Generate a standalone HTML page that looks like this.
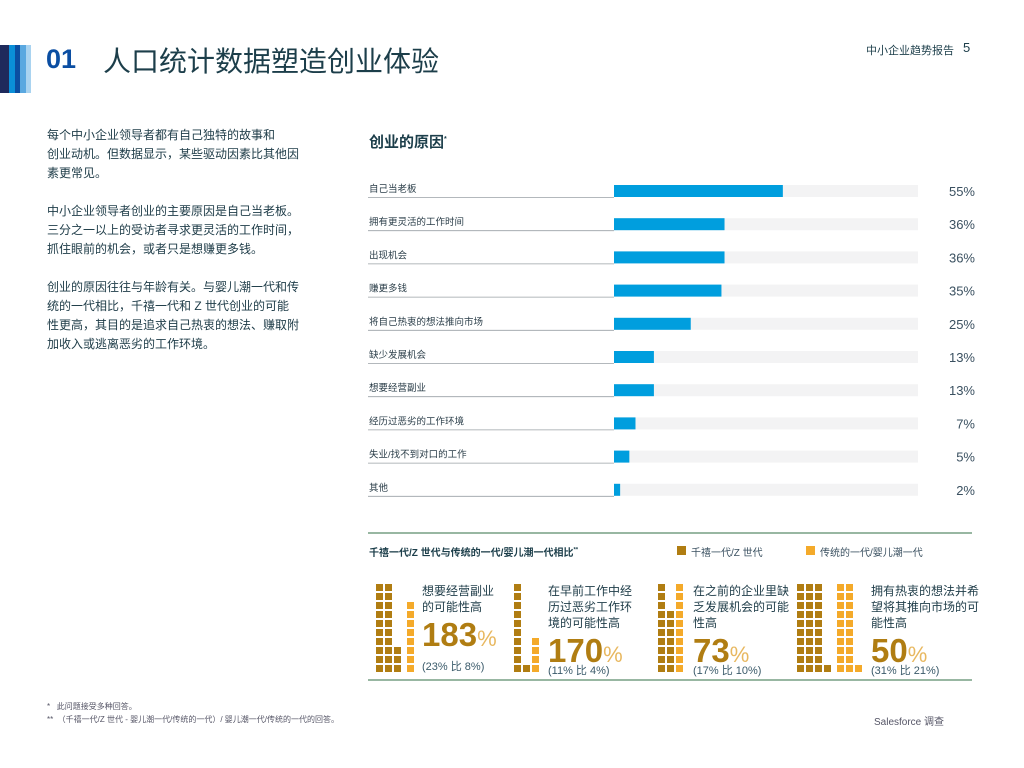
<!DOCTYPE html>
<html><head><meta charset="utf-8">
<style>
body{margin:0;width:1024px;height:768px;background:#fff;position:relative;overflow:hidden;font-family:"Liberation Sans","Noto Sans CJK SC",sans-serif;color:#1d3b47}
.a{position:absolute;white-space:nowrap}
</style></head><body>
<div class="a" style="left:0;top:45px;width:9px;height:48px;background:#1f2a5c"></div>
<div class="a" style="left:9px;top:45px;width:6px;height:48px;background:#0a8fd8"></div>
<div class="a" style="left:15px;top:45px;width:5px;height:48px;background:#0b4ea2"></div>
<div class="a" style="left:20px;top:45px;width:6px;height:48px;background:#5aa8e0"></div>
<div class="a" style="left:26px;top:45px;width:5px;height:48px;background:#a9d3f0"></div>
<div class="a" style="left:46px;top:44px;font-size:27px;font-weight:bold;color:#0b4ea2">01</div>
<div class="a" style="left:103px;top:40px;font-size:28px;color:#1c3e4a">人口统计数据塑造创业体验</div>
<div class="a" style="left:866px;top:42px;font-size:11px;color:#1c3e4a">中小企业趋势报告</div>
<div class="a" style="left:963px;top:40px;font-size:13px;color:#1c3e4a">5</div>

<div class="a" style="left:47px;top:126px;font-size:12px;line-height:19px;color:#1d3b47">每个中小企业领导者都有自己独特的故事和<br>创业动机。但数据显示，某些驱动因素比其他因<br>素更常见。<br><br>中小企业领导者创业的主要原因是自己当老板。<br>三分之一以上的受访者寻求更灵活的工作时间，<br>抓住眼前的机会，或者只是想赚更多钱。<br><br>创业的原因往往与年龄有关。与婴儿潮一代和传<br>统的一代相比，千禧一代和 Z 世代创业的可能<br>性更高，其目的是追求自己热衷的想法、赚取附<br>加收入或逃离恶劣的工作环境。</div>

<div class="a" style="left:369px;top:131px;font-size:15px;font-weight:bold;color:#1c3e4a">创业的原因<sup style="font-size:7px">*</sup></div>

<svg class="a" id="bars" style="left:0;top:0" width="1024" height="768"></svg>

<div class="a" style="left:369px;top:544px;font-size:10px;font-weight:bold;color:#1c3e4a">千禧一代/Z 世代与传统的一代/婴儿潮一代相比<sup style="font-size:6px">**</sup></div>
<div class="a" style="left:677px;top:546px;width:9px;height:9px;background:#b07d12"></div>
<div class="a" style="left:691px;top:544px;font-size:10px;color:#3a5060">千禧一代/Z 世代</div>
<div class="a" style="left:806px;top:546px;width:9px;height:9px;background:#f4aa2a"></div>
<div class="a" style="left:820px;top:544px;font-size:10px;color:#3a5060">传统的一代/婴儿潮一代</div>

<svg class="a" id="waffle" style="left:0;top:0" width="1024" height="768"></svg>

<div class="a" style="left:47px;top:701px;font-size:8px;color:#556">*&nbsp;&nbsp;&nbsp;此问题接受多种回答。</div>
<div class="a" style="left:47px;top:714px;font-size:8px;color:#556">**&nbsp;&nbsp;（千禧一代/Z 世代 - 婴儿潮一代/传统的一代）/ 婴儿潮一代/传统的一代的回答。</div>
<div class="a" style="left:874px;top:713px;font-size:10px;color:#556">Salesforce 调查</div>

<script>
const reasons=["自己当老板","拥有更灵活的工作时间","出现机会","赚更多钱","将自己热衷的想法推向市场","缺少发展机会","想要经营副业","经历过恶劣的工作环境","失业/找不到对口的工作","其他"];
const reasonValues=[55,36,36,35,25,13,13,7,5,2];
const ns="http://www.w3.org/2000/svg";
function mk(svg,tag,at){const e=document.createElementNS(ns,tag);for(const k in at)e.setAttribute(k,at[k]);svg.appendChild(e);return e;}
const bs=document.getElementById('bars');
const x0=614,pxPer=3.07,trackW=304;
const yRow=i=>185+i*33.2;
reasons.forEach((r,i)=>{
  const y=yRow(i);
  const ln=mk(bs,'line',{x1:368,x2:614,y1:y+12.5,y2:y+12.5,stroke:'#9aa0a6','stroke-width':0.8});
  
  
  const t=mk(bs,'text',{x:369,y:y+7,'font-size':9.5,fill:'#2a3d48'});t.textContent=r;
  
  
  const tr=mk(bs,'rect',{x:x0,y:y,width:trackW,height:12,fill:'#f3f3f4'});
  
  
  const b=mk(bs,'rect',{x:x0,y:y,width:reasonValues[i]*pxPer,height:12,fill:'#009ede'});
  
  
  const v=mk(bs,'text',{x:975,y:y+11,'font-size':13,fill:'#3a5060','text-anchor':'end'});v.textContent=reasonValues[i]+'%';
  
  
});
[533,680].forEach(y=>{const l=mk(bs,'line',{x1:368,x2:972,y1:y,y2:y,stroke:'#5b8c6a','stroke-width':1.2});
  
  });

const waffleTitles=[["想要经营副业","的可能性高"],["在早前工作中经","历过恶劣工作环","境的可能性高"],["在之前的企业里缺","乏发展机会的可能","性高"],["拥有热衷的想法并希","望将其推向市场的可","能性高"]];
const millennialValues=[23,11,17,31];
const traditionalValues=[8,4,10,21];
const liftLabels=["183%","170%","73%","50%"];
const ws=document.getElementById('waffle');
const wx=[376,514,658,797],pitch=9,cell=7,bottom=672;
function drawCol(x,n,color){let cols=0;for(let k=0;k<n;k++){const c=Math.floor(k/10),r=k%10;cols=c+1;
  const s=mk(ws,'rect',{x:x+c*pitch,y:bottom-(r+1)*pitch+2,width:cell,height:cell,fill:color});
  
  }return cols;}
wx.forEach((x,i)=>{
  const c1=drawCol(x,millennialValues[i],'#b07d12');
  const x2=x+c1*pitch+(c1>2?4:0);
  const c2=drawCol(x2,traditionalValues[i],'#f4aa2a');
  const waffleEnd=x2+c2*pitch;
  const tx=Math.max([407,548,693,871][i],waffleEnd+6);
  const lines=waffleTitles[i];
  lines.forEach((l,j)=>{const t=mk(ws,'text',{x:tx,y:595+j*16,'font-size':12,fill:'#1d3b47'});t.textContent=l;
    
    });
  const lastBase=595+(lines.length-1)*16;
  const big=mk(ws,'text',{x:tx,y:Math.min(lastBase+35,662),'font-size':33,'font-weight':'bold',fill:'#b07d12'});big.textContent=liftLabels[i].replace('%','');
  
  
  const pc=mk(big,'tspan',{'font-size':22,'font-weight':'normal',fill:'#e8b860'});pc.textContent='%';
  const sub=mk(ws,'text',{x:tx,y:lines.length>2?674:670,'font-size':11,fill:'#3a5a6a'});sub.textContent='('+millennialValues[i]+'% 比 '+traditionalValues[i]+'%)';
  
  
});
</script>
</body></html>
